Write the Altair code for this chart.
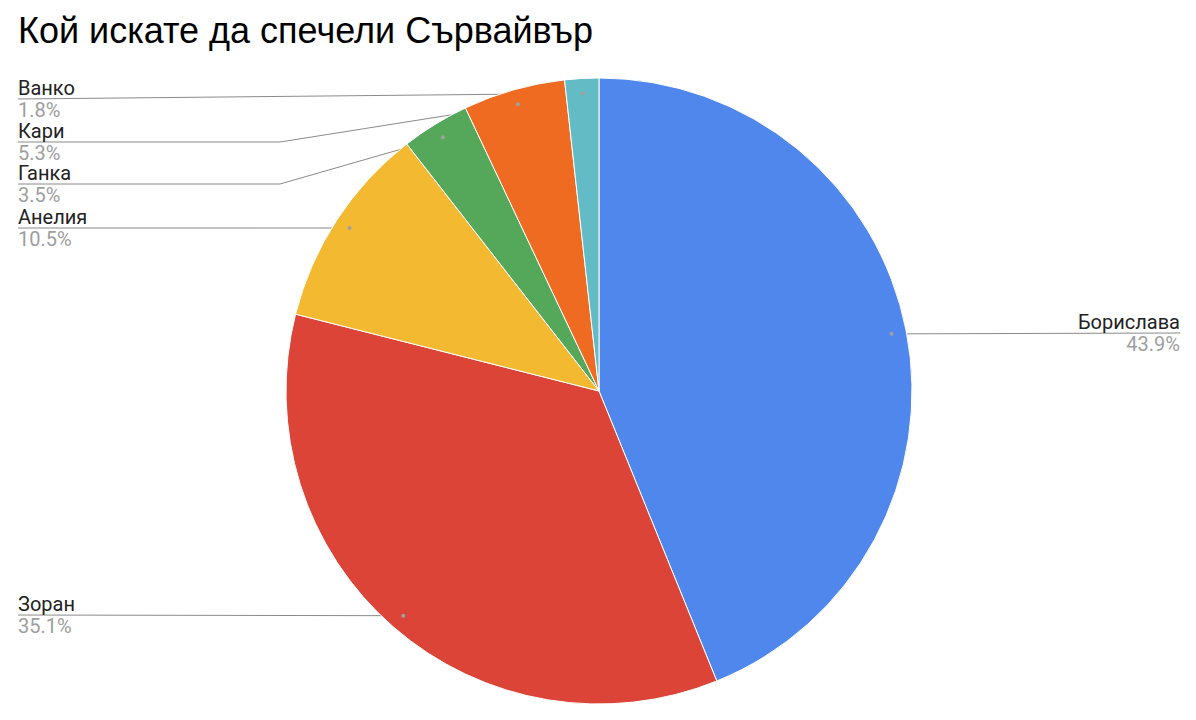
import math
import altair as alt
import pandas as pd

# ---- data ----
names = ["Борислава", "Зоран", "Анелия", "Ганка", "Кари", "Ванко"]
votes = [25, 20, 6, 2, 3, 1]
colors = ["#5087EC", "#DB4437", "#F2B931", "#55A75A", "#EF6B22", "#63BBC6"]
title_text = "Кой искате да спечели Сървайвър"

# ---- layout (annotation placement, plot pixels) ----
W, H = 1180, 644
CX, CY, R = 591, 323, 313
DOT_R = 0.952 * R
label_side = {"Борислава": "right", "Зоран": "left", "Анелия": "left",
              "Ганка": "left", "Кари": "left", "Ванко": "left"}
label_line_y = {"Борислава": 265, "Зоран": 547, "Анелия": 160,
                "Ганка": 116, "Кари": 74, "Ванко": 31}
label_bend_x = {"Ганка": 272, "Кари": 272}
LEFT_X, RIGHT_X = 10, 1172

total = sum(votes)
rows, line_rows = [], []
cum = 0
for i, (n, v) in enumerate(zip(names, votes)):
    mid = (cum + v / 2) / total * 2 * math.pi
    cum += v
    dx = CX + DOT_R * math.sin(mid)
    dy = CY - DOT_R * math.cos(mid)
    ly = label_line_y[n]
    side = label_side[n]
    lx = LEFT_X if side == "left" else RIGHT_X
    rows.append(dict(idx=i, name=n, votes=v, pct=f"{v / total * 100:.1f}%",
                     dot_x=dx, dot_y=dy, lx=lx, name_y=ly - 4, pct_y=ly + 18,
                     side=side))
    pts = [(lx, ly)]
    if n in label_bend_x:
        pts.append((label_bend_x[n], ly))
    pts.append((dx, dy))
    for k, (px, py) in enumerate(pts):
        line_rows.append(dict(name=n, k=k, x=px, y=py))

df = pd.DataFrame(rows)
lines = pd.DataFrame(line_rows)

xs = alt.Scale(domain=[0, W], nice=False, zero=False)
ys = alt.Scale(domain=[0, H], nice=False, zero=False, reverse=True)

pie = alt.Chart(df).mark_arc(radius=R, stroke="white", strokeWidth=1).encode(
    theta=alt.Theta("votes:Q", stack=True),
    order=alt.Order("idx:Q"),
    color=alt.Color("name:N", scale=alt.Scale(domain=names, range=colors), legend=None),
    x=alt.value(CX), y=alt.value(CY),
)

leader = alt.Chart(lines).mark_line(color="#8a8a8a", strokeWidth=1).encode(
    x=alt.X("x:Q", scale=xs, axis=None),
    y=alt.Y("y:Q", scale=ys, axis=None),
    detail="name:N",
    order="k:Q",
)

dots = alt.Chart(df).mark_circle(size=16, color="#a0a0a0", opacity=1).encode(
    x=alt.X("dot_x:Q", scale=xs, axis=None),
    y=alt.Y("dot_y:Q", scale=ys, axis=None),
)

left = df[df.side == "left"]
right = df[df.side == "right"]

def texts(d, align):
    nm = alt.Chart(d).mark_text(align=align, baseline="alphabetic", font="Roboto",
                                fontSize=20, color="#222222").encode(
        x=alt.X("lx:Q", scale=xs, axis=None),
        y=alt.Y("name_y:Q", scale=ys, axis=None),
        text="name:N",
    )
    pc = alt.Chart(d).mark_text(align=align, baseline="alphabetic", font="Roboto",
                                fontSize=20, color="#9e9e9e").encode(
        x=alt.X("lx:Q", scale=xs, axis=None),
        y=alt.Y("pct_y:Q", scale=ys, axis=None),
        text="pct:N",
    )
    return nm + pc

chart = alt.layer(leader, pie, dots, texts(left, "left"), texts(right, "right")).properties(
    width=W, height=H,
    autosize=alt.AutoSizeParams(type="none"),
    padding={"left": 0, "top": 60, "right": 0, "bottom": 0},
    title=alt.Title(title_text, anchor="start", fontSize=36, font="Liberation Sans",
                    fontWeight="normal", color="#000000", dx=10, dy=32, offset=21,
                    baseline="alphabetic"),
).configure_view(stroke=None)

chart.save("out.html", embed_options={"renderer": "svg", "actions": False})
